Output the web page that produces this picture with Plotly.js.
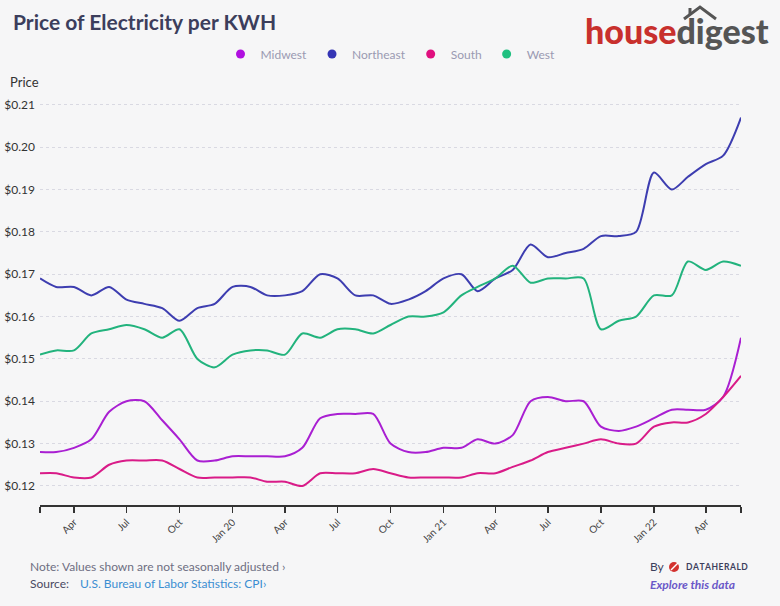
<!DOCTYPE html>
<html>
<head>
<meta charset="utf-8">
<script src="https://cdn.plot.ly/plotly-3.0.1.min.js"></script>
<style>
html,body{margin:0;padding:0;background:#f6f6f7;}
#chart{width:780px;height:606px;}
</style>
</head>
<body>
<div id="chart"></div>
<script>
const months = ['2019-02-01','2019-03-01','2019-04-01','2019-05-01','2019-06-01','2019-07-01','2019-08-01','2019-09-01','2019-10-01','2019-11-01','2019-12-01',
'2020-01-01','2020-02-01','2020-03-01','2020-04-01','2020-05-01','2020-06-01','2020-07-01','2020-08-01','2020-09-01','2020-10-01','2020-11-01','2020-12-01',
'2021-01-01','2021-02-01','2021-03-01','2021-04-01','2021-05-01','2021-06-01','2021-07-01','2021-08-01','2021-09-01','2021-10-01','2021-11-01','2021-12-01',
'2022-01-01','2022-02-01','2022-03-01','2022-04-01','2022-05-01','2022-06-01'];

const midwest = [0.128,0.128,0.129,0.131,0.1375,0.140,0.140,0.1355,0.131,0.126,0.126,
0.127,0.127,0.127,0.127,0.129,0.136,0.137,0.137,0.137,0.130,0.128,0.128,
0.129,0.129,0.131,0.130,0.132,0.140,0.141,0.140,0.140,0.134,0.133,0.134,
0.136,0.138,0.138,0.138,0.141,0.155];

const northeast = [0.169,0.167,0.167,0.165,0.167,0.164,0.163,0.162,0.159,0.162,0.163,
0.167,0.167,0.165,0.165,0.166,0.170,0.169,0.165,0.165,0.163,0.164,0.166,
0.169,0.170,0.166,0.169,0.171,0.177,0.174,0.175,0.176,0.179,0.179,0.180,
0.194,0.190,0.193,0.196,0.198,0.207];

const south = [0.123,0.123,0.122,0.122,0.125,0.126,0.126,0.126,0.124,0.122,0.122,
0.122,0.122,0.121,0.121,0.120,0.123,0.123,0.123,0.124,0.123,0.122,0.122,
0.122,0.122,0.123,0.123,0.1245,0.126,0.128,0.129,0.130,0.131,0.130,0.130,
0.134,0.135,0.135,0.137,0.141,0.146];

const west = [0.151,0.152,0.152,0.156,0.157,0.158,0.157,0.155,0.157,0.150,0.148,
0.151,0.152,0.152,0.151,0.156,0.155,0.157,0.157,0.156,0.158,0.160,0.160,
0.161,0.165,0.167,0.169,0.172,0.168,0.169,0.169,0.169,0.157,0.159,0.160,
0.165,0.165,0.173,0.171,0.173,0.172];

const seriesNames = ['Midwest','Northeast','South','West'];
const lineColors = ['#a91fd2','#3d3db0','#d91b88','#22b37d'];
const legendColors = ['#b010e0','#3535b5','#e0107f','#20c080'];

const tickVals = ['2019-02-01','2019-04-01','2019-07-01','2019-10-01','2020-01-01','2020-04-01','2020-07-01','2020-10-01','2021-01-01','2021-04-01','2021-07-01','2021-10-01','2022-01-01','2022-04-01','2022-06-01'];
const tickText = ['','Apr','Jul','Oct','Jan 20','Apr','Jul','Oct','Jan 21','Apr','Jul','Oct','Jan 22','Apr',''];

const allSeries = [midwest, northeast, south, west];
const traces = [];
allSeries.forEach((vals, i) => {
  traces.push({
    x: months, y: vals, type: 'scatter', mode: 'lines',
    name: seriesNames[i], showlegend: false, hoverinfo: 'skip',
    line: {color: lineColors[i], width: 2, shape: 'spline', smoothing: 0.8}
  });
});
seriesNames.forEach((n, i) => {
  traces.push({
    x: [null], y: [null], type: 'scatter', mode: 'markers', name: n,
    marker: {color: legendColors[i], size: 9, symbol: 'circle'}
  });
});

const L = 40, R = 741, T = 101, B = 505;
const px = x => (x - L) / (R - L);
const py = y => (B - y) / (B - T);

const layout = {
  width: 780, height: 606,
  paper_bgcolor: '#f6f6f7', plot_bgcolor: '#f6f6f7',
  margin: {l: L, r: 780 - R, t: T, b: 606 - B},
  font: {family: 'Lato, "Open Sans", sans-serif', color: '#333'},
  title: {text: '<b>Price of Electricity per KWH</b>', x: 13/780, xanchor: 'left', y: 1 - 23/606, yanchor: 'middle',
    font: {size: 21, color: '#3c3e5c', family: 'Lato, sans-serif'}},
  showlegend: true,
  legend: {orientation: 'h', x: 0.5, xanchor: 'center', y: py(54), yanchor: 'middle',
    font: {size: 12, color: '#9a9ab2'}, bgcolor: 'rgba(0,0,0,0)', itemclick: false},
  xaxis: {
    type: 'date', range: ['2019-02-01', '2022-06-01'],
    tickmode: 'array', tickvals: tickVals, ticktext: tickText, tickangle: -45,
    tickfont: {size: 10, color: '#444'},
    ticks: 'outside', ticklen: 6, tickwidth: 1.5, tickcolor: '#333',
    showline: true, linecolor: '#333', linewidth: 1.5,
    showgrid: false, zeroline: false, fixedrange: true
  },
  yaxis: {
    range: [0.1155, 0.2109], tickmode: 'linear', tick0: 0.12, dtick: 0.01,
    tickformat: '$.2f', tickfont: {size: 12, color: '#333'},
    showgrid: true, gridcolor: '#d9d9e2', griddash: 'dot', gridwidth: 1,
    showline: false, zeroline: false, ticks: '', ticklabelstandoff: 4, fixedrange: true
  },
  annotations: [
    {text: 'Price', xref: 'paper', yref: 'paper', x: px(8), y: py(82), xanchor: 'left', yanchor: 'middle',
      showarrow: false, font: {size: 13, color: '#333'}},
    {text: '<span style="color:#c8302d">house</span><span style="color:#555555">digest</span>',
      xref: 'paper', yref: 'paper', x: px(771), y: py(30), xanchor: 'right', yanchor: 'middle',
      showarrow: false, font: {size: 34, family: 'Lato, sans-serif', weight: 900}},
    {text: 'Note: Values shown are not seasonally adjusted ›', xref: 'paper', yref: 'paper',
      x: px(28), y: py(566), xanchor: 'left', yanchor: 'middle', showarrow: false,
      font: {size: 12, color: '#6e6e82'}},
    {text: 'Source:', xref: 'paper', yref: 'paper', x: px(28), y: py(583), xanchor: 'left', yanchor: 'middle',
      showarrow: false, font: {size: 12, color: '#4a4a62'}},
    {text: 'U.S. Bureau of Labor Statistics: CPI›', xref: 'paper', yref: 'paper', x: px(78), y: py(583),
      xanchor: 'left', yanchor: 'middle', showarrow: false, font: {size: 12, color: '#3b8ed2'}},
    {text: 'By', xref: 'paper', yref: 'paper', x: px(648), y: py(566), xanchor: 'left', yanchor: 'middle',
      showarrow: false, font: {size: 12, color: '#3c3e5c'}},
    {text: '<b>D\u200aA\u200aT\u200aA\u200aH\u200aE\u200aR\u200aA\u200aL\u200aD</b>', xref: 'paper', yref: 'paper', x: px(684), y: py(567), xanchor: 'left', yanchor: 'middle',
      showarrow: false, font: {size: 8.5, color: '#3c3e5c'}},
    {text: '<b><i>Explore this data</i></b>', xref: 'paper', yref: 'paper', x: px(648), y: py(584),
      xanchor: 'left', yanchor: 'middle', showarrow: false, font: {size: 12, color: '#6a58c8'}}
  ],
  shapes: [
    {type: 'path', xref: 'paper', yref: 'paper', layer: 'above',
      path: `M ${px(684)} ${py(19)} L ${px(700)} ${py(7)} L ${px(716)} ${py(19)}`,
      line: {color: '#555555', width: 3}},
    {type: 'line', xref: 'paper', yref: 'paper', layer: 'above',
      x0: px(690), x1: px(690), y0: py(15), y1: py(8),
      line: {color: '#555555', width: 3}},
    {type: 'circle', xref: 'paper', yref: 'paper', x0: px(669), x1: px(679), y0: py(572), y1: py(562),
      fillcolor: '#d3322f', line: {width: 0}},
    {type: 'line', xref: 'paper', yref: 'paper', x0: px(671), x1: px(678), y0: py(570), y1: py(563),
      line: {color: '#ffffff', width: 1.5}}
  ]
};

Plotly.newPlot('chart', traces, layout, {displayModeBar: false, staticPlot: true});
</script>
</body>
</html>
